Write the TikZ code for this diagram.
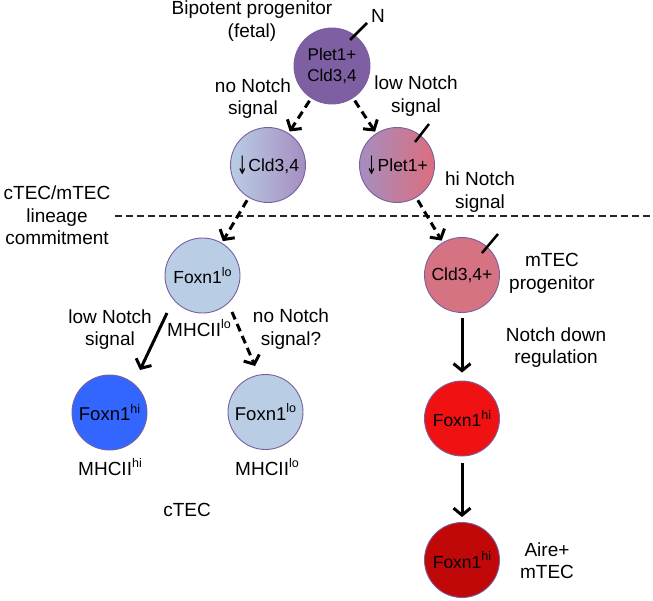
\documentclass[tikz,border=0pt]{standalone}
\usepackage{fontspec}
\usepackage{graphicx}
\setmainfont{Liberation Sans}
\newfontfamily\djv{DejaVu Sans}
\usetikzlibrary{arrows.meta,calc}
\definecolor{cpurple}{RGB}{126,96,162}
\definecolor{cborder}{RGB}{120,95,160}
\definecolor{clblue}{RGB}{185,205,229}
\definecolor{cmauve}{RGB}{165,142,192}
\definecolor{cpinkr}{RGB}{220,110,125}
\definecolor{cpink}{RGB}{213,115,130}
\definecolor{cblue}{RGB}{51,102,255}
\definecolor{cred}{RGB}{240,18,18}
\definecolor{cdred}{RGB}{192,8,8}
\newcommand{\mysup}[1]{\raisebox{0.42em}{\fontsize{12.5}{12}\selectfont #1}}
\newcommand{\mydown}{\raisebox{-3pt}{\scalebox{0.75}[1.45]{\djv ↓}}\hspace{0.5pt}}
\tikzset{
  cell/.style={circle, draw=cborder, line width=0.9pt, minimum size=75pt, inner sep=0pt,
    align=center, font=\fontsize{17.5}{21}\selectfont},
  lab/.style={align=center, inner sep=0pt, font=\fontsize{19}{22.5}\selectfont},
  darr/.style={line width=3pt, dash pattern=on 8pt off 5pt, -{Straight Barb[length=7pt,width=17pt]}},
  sarr/.style={line width=3pt, -{Straight Barb[length=7pt,width=17pt]}},
  tick/.style={line width=2.5pt},
  sep/.style={line width=1.4pt, dash pattern=on 6.5pt off 4.5pt, black!85}
}
\begin{document}
\begin{tikzpicture}[x=1pt,y=-1pt]
\useasboundingbox (0,0) rectangle (653,600);
% cells
\node[cell, fill=cpurple, minimum size=76pt, font=\fontsize{17}{21}\selectfont] (top) at (332,66) {Plet1+\\Cld3,4};
\node[cell, left color=clblue, right color=cmauve] (c1) at (268,165) {\mydown Cld3,4};
\node[cell, left color=cmauve, right color=cpinkr] (c2) at (397,165) {\mydown Plet1+};
\node[cell, fill=clblue] (f1) at (202.5,275.5) {Foxn1\mysup{lo}};
\node[cell, fill=cpink] (m1) at (462,275) {Cld3,4+};
\node[cell, fill=cblue, font=\fontsize{18.5}{21}\selectfont] (b1) at (109.5,412.5) {Foxn1\mysup{hi}};
\node[cell, fill=clblue, font=\fontsize{18.5}{21}\selectfont] (b2) at (265.5,412) {Foxn1\mysup{lo}};
\node[cell, fill=cred] (r1) at (462,418.5) {Foxn1\mysup{hi}};
\node[cell, fill=cdred] (r2) at (462,560) {Foxn1\mysup{hi}};
% labels
\node[lab] (lbip) at (252,21) {Bipotent progenitor\\(fetal)};
\node[lab] (lN) at (378,16) {N};
\node[lab] (lno1) at (253,98.5) {no Notch\\signal};
\node[lab] (llow1) at (416,96) {low Notch\\signal};
\node[lab] (lhi) at (480,192) {hi Notch\\signal};
\node[lab] (lcom) at (57,215.5) {cTEC/mTEC\\lineage\\commitment};
\node[lab] (llow2) at (110,329.5) {low Notch\\signal};
\node[lab] (lmh1) at (199,328) {MHCII\mysup{lo}};
\node[lab] (lno2) at (291,329) {no Notch\\signal?};
\node[lab] (lmh2) at (110,467) {MHCII\mysup{hi}};
\node[lab] (lmh3) at (267,467) {MHCII\mysup{lo}};
\node[lab] (lctec) at (187,510) {cTEC};
\node[lab] (lmprog) at (552,273.5) {mTEC\\progenitor};
\node[lab] (lndown) at (556,347.5) {Notch down\\regulation};
\node[lab] (laire) at (547,560.5) {Aire+\\mTEC};
% separator
\coordinate (sepL) at (115,216);
\coordinate (sepR) at (653,216);
\draw[sep] (sepL) -- (sepR);
% ticks
\draw[tick] ($(top)+(18,-26)$) -- ($(top)+(35,-43)$);
\draw[tick] ($(c2)+(18,-23)$) -- ($(c2)+(32,-41)$);
\draw[tick] ($(m1)+(20,-22)$) -- ($(m1)+(36,-41)$);
% arrows
\draw[darr, shorten <=3pt, shorten >=2pt] (top) -- (c1);
\draw[darr, shorten <=3pt, shorten >=2pt] (top) -- (c2);
\draw[darr, shorten <=3pt, shorten >=2pt] (c1) -- (f1);
\draw[darr, shorten <=3pt, shorten >=2pt] (c2) -- (m1);
\draw[sarr] ($(f1)+(-35.5,37.5)$) -- ($(b1)+(30.5,-42.5)$);
\draw[darr] ($(f1)+(29.5,36.5)$) -- ($(b2)+(-10.5,-46)$);
\draw[sarr, shorten <=5pt, shorten >=8pt] (m1) -- (r1);
\draw[sarr, shorten <=7pt, shorten >=5pt] (r1) -- (r2);
\end{tikzpicture}
\end{document}
